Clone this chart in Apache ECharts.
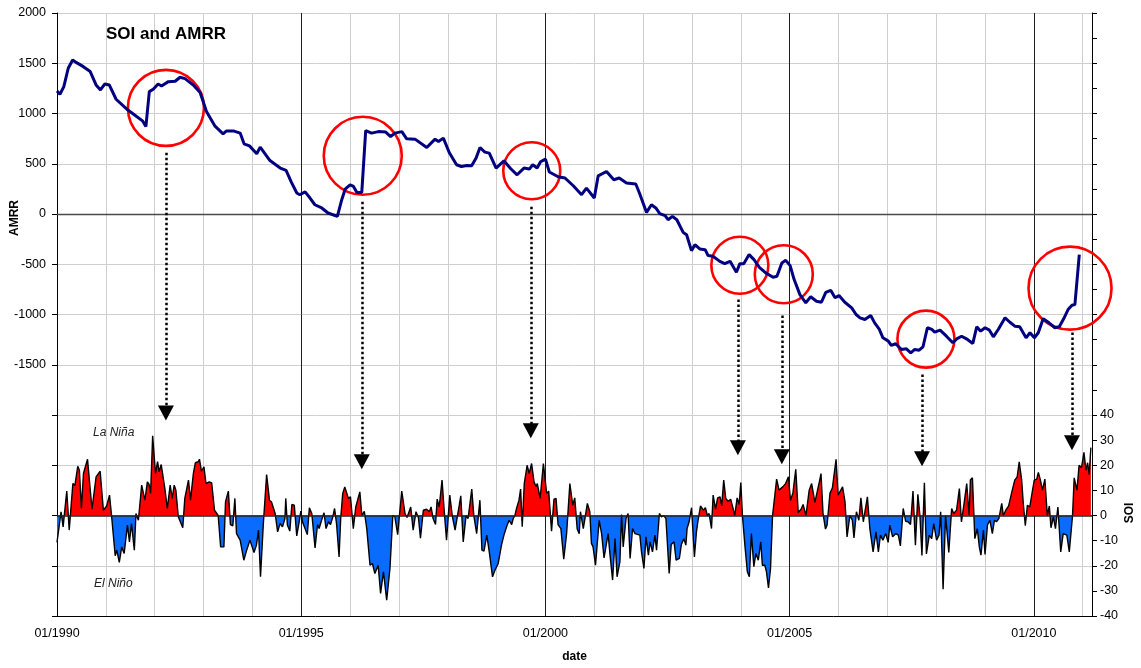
<!DOCTYPE html>
<html>
<head>
<meta charset="utf-8">
<title>SOI and AMRR</title>
<script src="https://cdn.jsdelivr.net/npm/echarts@6/dist/echarts.min.js"></script>
<style>
  html, body { margin: 0; padding: 0; background: #fff; }
  #chart { width: 1141px; height: 668px; }
</style>
</head>
<body>
<div id="chart"></div>
<script>
// AMRR (decimal year, value)
const amrrYears = [
  1990.00, 1990.06, 1990.14, 1990.23, 1990.32, 1990.40, 1990.54, 1990.68, 1990.80, 1990.89,
  1990.98, 1991.07, 1991.21, 1991.43, 1991.63, 1991.75, 1991.82, 1991.89, 1991.97, 1992.07,
  1992.14, 1992.28, 1992.42, 1992.52, 1992.62, 1992.79, 1992.93, 1993.06, 1993.23, 1993.40,
  1993.47, 1993.61, 1993.75, 1993.83, 1993.94, 1994.09, 1994.16, 1994.36, 1994.57, 1994.69,
  1994.80, 1994.91, 1994.97, 1995.08, 1995.18, 1995.28, 1995.42, 1995.55, 1995.74, 1995.83,
  1995.90, 1996.00, 1996.07, 1996.14, 1996.24, 1996.32, 1996.44, 1996.58, 1996.73, 1996.83,
  1996.92, 1997.06, 1997.16, 1997.33, 1997.57, 1997.74, 1997.81, 1997.91, 1998.03, 1998.18,
  1998.28, 1998.39, 1998.49, 1998.58, 1998.66, 1998.76, 1998.85, 1998.99, 1999.15, 1999.29,
  1999.42, 1999.56, 1999.67, 1999.74, 1999.83, 1999.90, 2000.00, 2000.08, 2000.26, 2000.40,
  2000.57, 2000.74, 2000.84, 2001.00, 2001.08, 2001.25, 2001.40, 2001.51, 2001.66, 2001.85,
  2001.93, 2002.07, 2002.17, 2002.26, 2002.34, 2002.45, 2002.51, 2002.60, 2002.69, 2002.82,
  2002.89, 2002.99, 2003.06, 2003.16, 2003.27, 2003.33, 2003.43, 2003.57, 2003.67, 2003.78,
  2003.91, 2003.98, 2004.06, 2004.17, 2004.27, 2004.38, 2004.51, 2004.66, 2004.74, 2004.84,
  2004.92, 2005.01, 2005.09, 2005.21, 2005.33, 2005.43, 2005.55, 2005.65, 2005.74, 2005.84,
  2005.93, 2006.01, 2006.13, 2006.27, 2006.36, 2006.44, 2006.54, 2006.66, 2006.74, 2006.83,
  2006.91, 2007.02, 2007.08, 2007.17, 2007.29, 2007.39, 2007.48, 2007.56, 2007.65, 2007.73,
  2007.82, 2007.91, 2007.97, 2008.08, 2008.21, 2008.34, 2008.42, 2008.52, 2008.62, 2008.75,
  2008.83, 2008.91, 2009.00, 2009.09, 2009.17, 2009.27, 2009.41, 2009.51, 2009.61, 2009.71,
  2009.84, 2009.92, 2010.01, 2010.09, 2010.19, 2010.31, 2010.43, 2010.52, 2010.61, 2010.70,
  2010.78, 2010.84, 2010.93
];
const amrrValues = [
  1225, 1192, 1267, 1450, 1533, 1506, 1466, 1417, 1284, 1235,
  1294, 1284, 1142, 1043, 970, 927, 870, 1218, 1241, 1294,
  1274, 1317, 1321, 1361, 1347, 1284, 1208, 1019, 877, 798,
  827, 827, 805, 698, 678, 599, 665, 532, 457, 433,
  314, 209, 192, 220, 159, 92, 60, 10, -24, 142,
  248, 291, 274, 215, 215, 830, 805, 820, 815, 771,
  805, 820, 748, 745, 662, 745, 721, 755, 612, 490,
  473, 483, 480, 556, 662, 616, 606, 457, 529, 450,
  390, 457, 447, 490, 457, 520, 546, 418, 371, 358,
  281, 192, 258, 159, 380, 423, 341, 358, 308, 298,
  202, 16, 92, 60, 3, -17, -57, -24, -57, -183,
  -206, -365, -305, -348, -355, -414, -421, -471, -494, -471,
  -580, -494, -494, -404, -454, -530, -586, -630, -620, -487,
  -461, -514, -650, -802, -884, -824, -868, -878, -779, -759,
  -834, -812, -878, -934, -1000, -1033, -1050, -1010, -1083, -1142,
  -1232, -1265, -1308, -1291, -1348, -1341, -1381, -1348, -1355, -1321,
  -1132, -1149, -1176, -1156, -1216, -1281, -1242, -1216, -1242, -1288,
  -1122, -1166, -1132, -1156, -1222, -1149, -1033, -1077, -1116, -1122,
  -1232, -1182, -1232, -1182, -1043, -1083, -1132, -1122, -1043, -951,
  -908, -901, -404
];

// SOI (months since 01/1990, value)
const soiMonths = [
  0, 1, 1.5, 2.4, 3, 3.9, 4.4, 5.1, 5.5, 6, 6.5, 7.5, 8.6, 9.6, 10.6, 11.4, 12.2, 12.9, 13.4, 14.3,
  14.7, 15.3, 15.9, 16.5, 17.3, 17.8, 18.3, 19, 19.4, 20, 20.8, 21.6, 22.2, 22.6, 23, 23.5, 24.2, 24.7, 25.1, 25.6,
  26.5, 27.1, 27.8, 28.3, 28.8, 29.2, 29.8, 30.9, 31.4, 32.3, 32.8, 33.5, 34, 34.7, 35, 35.5, 36.1, 36.6, 37.4, 38,
  38.7, 39.6, 40.2, 41, 41.4, 42.1, 42.6, 43.2, 43.7, 44.1, 45, 45.9, 46.6, 47.4, 48.4, 49, 49.5, 50, 50.7, 51.5,
  52.2, 52.7, 53.6, 54.2, 54.8, 55.4, 56, 56.2, 56.6, 57.2, 57.7, 58.3, 58.9, 59.5, 59.9, 60.3, 61.5, 62, 62.6, 63.4,
  64, 64.4, 65, 65.6, 66.1, 66.7, 67.2, 67.7, 68.2, 68.7, 69.3, 69.7, 70.2, 70.7, 71.6, 72.1, 72.8, 73.4, 74.4, 74.9,
  75.5, 76.1, 76.9, 77.5, 78.1, 78.9, 79.5, 80.2, 81, 81.8, 82.5, 83, 83.7, 84.1, 84.7, 85.5, 86, 86.9, 87.5, 88.2,
  88.8, 89.3, 90, 90.8, 91.5, 91.9, 92.4, 93, 93.4, 93.9, 94.6, 95.1, 95.7, 96.5, 97.1, 97.8, 98.2, 98.8, 99.2, 99.8,
  100.5, 101, 101.9, 102.4, 103.1, 103.9, 104.4, 104.9, 105.6, 106.2, 107, 107.6, 108.4, 109.2, 109.8, 110.6, 111.1, 111.7, 112.1, 112.5,
  112.9, 113.5, 113.9, 114.3, 114.8, 115.5, 116, 116.6, 117.2, 117.7, 118, 118.7, 119.5, 120.3, 120.8, 121.5, 122.1, 122.6, 123.1, 123.8,
  124.5, 125.2, 126, 126.7, 127.2, 127.8, 128.3, 128.6, 129.3, 129.7, 130.3, 130.9, 131.3, 131.7, 132.3, 133.2, 133.8, 134.4, 135.4, 135.8,
  136.5, 137.1, 137.6, 138.3, 138.7, 139.1, 139.8, 140.3, 140.8, 141.4, 142, 142.4, 143.2, 143.6, 144.2, 144.7, 145.3, 145.7, 146.3, 146.9,
  147.3, 148, 148.5, 149.1, 149.6, 150.4, 150.9, 151.6, 152.1, 152.9, 153.4, 154, 154.5, 154.8, 155.3, 155.9, 156.6, 157.1, 157.5, 158.1,
  158.8, 159.3, 159.8, 160.2, 160.8, 161.2, 161.8, 162.3, 162.9, 163.3, 163.8, 164.3, 164.9, 165.5, 166.1, 166.5, 167.1, 167.6, 168, 168.4,
  169, 169.6, 170.1, 170.6, 171.2, 171.7, 172.3, 172.9, 173.3, 173.9, 174.3, 174.8, 175.3, 175.8, 176.8, 177.4, 178.3, 179, 179.7, 180.2,
  180.8, 181.5, 182.1, 182.8, 183.3, 184, 184.8, 185.4, 185.8, 186.2, 186.8, 187.3, 187.7, 188.2, 188.8, 189.2, 189.9, 190.5, 191.4, 191.9,
  192.3, 193, 193.6, 194.1, 194.8, 195.4, 195.8, 196.4, 197, 197.5, 198.1, 198.5, 199.1, 199.7, 200.5, 201.2, 201.8, 202.3, 202.9, 203.6,
  204.2, 204.6, 205.3, 206.1, 206.7, 207.2, 207.9, 208.5, 209.1, 209.7, 210.3, 210.9, 211.5, 212, 212.5, 213.1, 213.6, 214.3, 214.9, 215.4,
  216.1, 216.7, 217.1, 217.7, 218.3, 218.7, 219.1, 219.8, 220.3, 221, 221.7, 222.2, 222.8, 223.5, 224.1, 224.4, 224.9, 225.5, 226.1, 226.6,
  227, 227.6, 228, 228.6, 229.2, 229.8, 230.3, 230.8, 231.4, 232.1, 232.5, 233.1, 233.8, 234.5, 235.3, 235.9, 236.4, 237, 237.4, 237.9,
  238.4, 239, 239.6, 240.1, 240.7, 241.1, 241.6, 242.1, 242.7, 243.3, 243.8, 244.2, 244.8, 245.3, 245.9, 246.6, 247.2, 248.1, 248.7, 249.5,
  249.9, 250.6, 251.1, 251.7, 252.3, 252.8, 253.2, 253.6, 254
];
const soiValues = [
  -10.7, 1.5, -4.5, 9.7, -5.8, 12.7, 12, 19.6, 18, 2.8, 16.7, 22.4, 2.5, 15.4, 17.6, 2.1, 3.8, 8.1, 0, -16,
  -13.8, -18.7, -12.5, -15.1, -3.8, -10.5, -3.2, -13.8, 0.8, -1.9, 12.1, 6.1, 13.4, 12.5, 8.8, 31.7, 16.7, 21.4, 17.4, 20.3,
  10.7, 2.8, 12.1, 6.8, 12.1, 10.1, -0.5, -4.9, 6.8, 14.1, 6.1, 16.7, 21, 21.4, 22.4, 17.6, 19.4, 12.7, 13.4, 13,
  2.1, 0, -12.5, -12.5, 5.4, 9.7, -3.6, -4.1, 6.8, -7.2, -9.8, -17.8, -13.8, -9.8, -14.7, -11.8, -5.8, -24.4, -3.2, 16.3,
  6.1, 5.4, 0.8, -6.5, -3.2, -4.5, -1.2, 6.8, -3.8, -6.2, 4.4, 4.1, -8.1, -2.5, 1.7, -2.5, -7.6, 3.1, 0.8, -12.9,
  -3.6, -5.2, -1.9, 1.1, -5.2, -2.5, -3.6, -0.9, 2.8, -3.6, -16.5, -1.2, 8.8, 11.4, 6.8, 7.4, -5.2, 3.4, 9.4, 0,
  1.7, -5.2, -19.8, -19.1, -23.1, -19.8, -31, -22.4, -33.7, -21.1, 0, -0.5, -7.6, -0.5, 9.7, 0.8, -0.8, 3.4, -5.8, 1.5,
  -0.9, -9, 2.1, 2.5, 1.5, 3.4, -1.2, -3.6, 6.5, 3.4, 14.1, 2.5, -9.8, 8.1, 0, -5.8, -1.9, 3.8, 7.8, -10.5,
  0, -1.2, 10.5, 0, -7.2, 6.1, -13.8, -14.2, -7.8, -14.5, -24.4, -21.8, -19.1, -11.8, -7.8, -3.8, -1.9, -3.6, -1.2, 0,
  2.8, 6.1, 10.5, -4.5, 12.7, 20, 16.7, 20.7, 13.4, 11.4, 12.7, 6.8, 20.7, 8.8, 9.7, -6.2, 6.5, 6.8, -3.6, -5.2,
  -17.4, -7.2, 12.7, 4.1, 7, -5.4, -7.2, 1.5, -5.2, -1.2, 4.8, 1.5, -11.1, -12.5, -19.8, -1.9, -7.2, -16.9, -7.2, -14.5,
  -25.7, -9.2, -24.4, -18.4, 0.4, -12.5, -1.2, 0.8, -17.1, -5.2, -7.2, -7.8, -7.8, -14.5, -21.1, -8.5, -15.8, -10.5, -14.5, -7.8,
  -13.8, 0.8, -0.5, 0, -1.2, -23.1, -11.5, -10.5, -17.8, -17.1, -11.5, -9.2, -11.8, -5.2, -2.5, 3.1, -16.5, -6.5, -1.9, 3.8,
  2.1, 3.1, -0.1, 0.8, -5.2, 8.1, 2.5, 7, 7.4, 3.8, 14.1, 6.8, 5.7, 6.5, 2.8, -0.1, 7, 4.4, 13.1, -0.1,
  -11.8, -22.4, -24.4, -7.2, -20.4, -15.1, -17.8, -10.5, -19.8, -19.8, -22.4, -28.8, -21.1, 0, 14.5, 10.1, 11.4, 12.7, 15.4, 6,
  9, 18.4, 1.2, 2.5, 4.4, 0, 10.1, 12.7, 12.1, 5.2, 9.7, 13.4, 16.7, 0.8, -5.4, -3.8, 8.8, 11, 22.4, 8.1,
  8.8, 11.4, 5.4, -8.5, 0, -1.9, -8.9, 1.5, -1.9, 7, -2.5, 1.5, 7.4, -5.2, -14.5, -6.5, -14.5, -7.8, -9.8, -7.2,
  -10.7, -3.8, -8.5, -7.2, -7.8, -12.1, 2.8, -2.3, -2.5, -3.6, 9.7, -11.8, 8.4, 0, -15.9, 13, -15.3, -7.8, -9.2, -3.2,
  -9.8, -7.8, 1.5, -29.3, 0, -7.2, -14.7, 2.8, 0.8, 2.1, 10.7, -2.5, 4.1, 12.7, 0, 14.1, 15, -9.2, -5.2, -12.5,
  -15.8, -5.8, -15.5, -3.8, -1.9, -7.2, -1.9, -2.5, -1.2, 4.8, 0, 2.1, 3.8, 8.8, 14.1, 15.4, 21.4, 14.1, 4.8, -4.1,
  4.1, 3.4, 9.4, 14.1, 14.5, 17.1, 14.1, 10.1, 14.5, 0, 3.8, -4.9, -0.5, -5.2, 3.4, -14.5, -7.2, -7.8, -14.5, 0,
  15, 10.1, 20, 19, 25.1, 18, 21, 16.3, 27
];

// annotations: red circles on AMRR (year, AMRR)
const circleYears = [1992.23, 1996.26, 1999.72, 2003.98, 2004.88, 2007.79, 2010.74];
const circleAmrr = [1056, 579, 430, -510, -600, -1245, -738];
// dotted arrows (year, from AMRR, to AMRR scale)
const arrowYears = [1992.23, 1996.24, 1999.70, 2003.94, 2004.84, 2007.71, 2010.78];
const arrowFrom = [609, 122, 71, -851, -1010, -1596, -1179];
const arrowTo = [-1979, -2465, -2157, -2326, -2416, -2436, -2277];

const circleSize = [76, 78, 57, 57, 58, 57, 83];
const FONT = '"Liberation Sans", Arial, Helvetica, sans-serif';
const X_MIN = 1990, X_MAX = 2011.19;

const chart = echarts.init(document.getElementById('chart'));

const amrrData = amrrYears.map((y, i) => [y, amrrValues[i]]);
const soiData = soiMonths.map((m, i) => [1990 + m / 12, soiValues[i]]);

const option = {
  animation: false,
  backgroundColor: '#fff',
  title: {
    text: 'SOI and AMRR',
    left: 106,
    top: 26,
    padding: 0,
    textStyle: { fontFamily: FONT, fontSize: 17, fontWeight: 'bold', color: '#000' }
  },
  grid: { left: 57, right: 49, top: 13, bottom: 51 },
  xAxis: [
    {
      type: 'value',
      min: X_MIN,
      max: X_MAX,
      interval: 1,
      name: 'date',
      nameLocation: 'middle',
      nameGap: 35,
      nameTextStyle: { fontFamily: FONT, fontSize: 12, fontWeight: 'bold', color: '#000' },
      axisLine: { show: true, onZero: false, lineStyle: { color: '#000', width: 1 } },
      axisTick: { show: false },
      axisLabel: {
        margin: 11,
        fontFamily: FONT,
        fontSize: 12.5,
        color: '#000',
        formatter: v => (v % 5 === 0 ? '01/' + v : '')
      },
      splitLine: { show: true, lineStyle: { color: '#cfcfcf', width: 1 } }
    },
    {
      // five-year major lines
      type: 'value',
      min: X_MIN,
      max: X_MAX,
      interval: 5,
      position: 'bottom',
      axisLine: { show: false },
      axisTick: { show: false },
      axisLabel: { show: false },
      splitLine: { show: true, lineStyle: { color: '#1e1e1e', width: 1 } }
    }
  ],
  yAxis: [
    {
      type: 'value',
      min: -4000,
      max: 2000,
      interval: 500,
      position: 'left',
      axisLine: { show: true, onZero: false, lineStyle: { color: '#000', width: 1 } },
      axisTick: { show: true, inside: false, length: 5, lineStyle: { color: '#000' } },
      axisLabel: {
        margin: 11,
        fontFamily: FONT,
        fontSize: 12.5,
        color: '#000',
        formatter: v => (v >= -1500 ? String(v) : '')
      },
      splitLine: { show: true, lineStyle: { color: '#cfcfcf', width: 1 } }
    },
    {
      type: 'value',
      min: -40,
      max: 200,
      interval: 10,
      position: 'right',
      axisLine: { show: true, onZero: false, lineStyle: { color: '#000', width: 1 } },
      axisTick: { show: true, inside: false, length: 5, lineStyle: { color: '#000' } },
      axisLabel: {
        margin: 8,
        fontFamily: FONT,
        fontSize: 12.5,
        color: '#000',
        formatter: v => (v <= 40 ? String(v) : '')
      },
      splitLine: { show: false }
    }
  ],
  visualMap: {
    type: 'piecewise',
    show: false,
    seriesIndex: 1,
    dimension: 1,
    pieces: [
      { min: -40, max: 0, color: '#0a6cff' },
      { min: 0, max: 200, color: '#ff0000' }
    ]
  },
  series: [
    {
      name: 'AMRR',
      type: 'line',
      xAxisIndex: 0,
      yAxisIndex: 0,
      data: amrrData,
      showSymbol: false,
      z: 5,
      lineStyle: { color: '#000080', width: 3 },
      markPoint: {
        silent: true,
        symbol: 'circle',
        label: { show: false },
        itemStyle: { color: 'rgba(0,0,0,0)', borderColor: '#ff0000', borderWidth: 2.6 },
        data: circleYears.map((y, i) => ({ coord: [y, circleAmrr[i]], symbolSize: circleSize[i] }))
      },
      markLine: {
        silent: true,
        symbol: ['none', 'none'],
        label: { show: false },
        lineStyle: { color: '#000', width: 2.5, type: [2.5, 2.5] },
        data: [
          // AMRR zero and SOI zero (AMRR -3000 sits on SOI 0)
          { yAxis: 0, lineStyle: { color: '#4a4a4a', width: 1.3, type: 'solid' } },
          { yAxis: -3000, lineStyle: { color: '#222', width: 1.5, type: 'solid' } }
        ].concat(arrowYears.map((y, i) => [
          { coord: [y, arrowFrom[i]] },
          { coord: [y, arrowTo[i]], symbol: 'triangle', symbolSize: [16, 15] }
        ]))
      }
    },
    {
      name: 'SOI',
      type: 'line',
      xAxisIndex: 0,
      yAxisIndex: 1,
      data: soiData,
      showSymbol: false,
      z: 3,
      lineStyle: { color: '#000', width: 1.4 },
      areaStyle: { opacity: 1 }
    }
  ],
  graphic: [
    {
      type: 'text', x: 93, y: 433,
      style: { text: 'La Niña', font: 'italic 12px ' + FONT, fill: '#222', verticalAlign: 'middle' }
    },
    {
      type: 'text', x: 94, y: 584,
      style: { text: 'El Niño', font: 'italic 12px ' + FONT, fill: '#222', verticalAlign: 'middle' }
    },
    {
      type: 'text', x: 15, y: 218, rotation: Math.PI / 2,
      style: { text: 'AMRR', font: 'bold 12px ' + FONT, fill: '#000', align: 'center', verticalAlign: 'middle' }
    },
    {
      type: 'text', x: 1130, y: 513, rotation: Math.PI / 2,
      style: { text: 'SOI', font: 'bold 12px ' + FONT, fill: '#000', align: 'center', verticalAlign: 'middle' }
    }
  ]
};

chart.setOption(option);
</script>
</body>
</html>
